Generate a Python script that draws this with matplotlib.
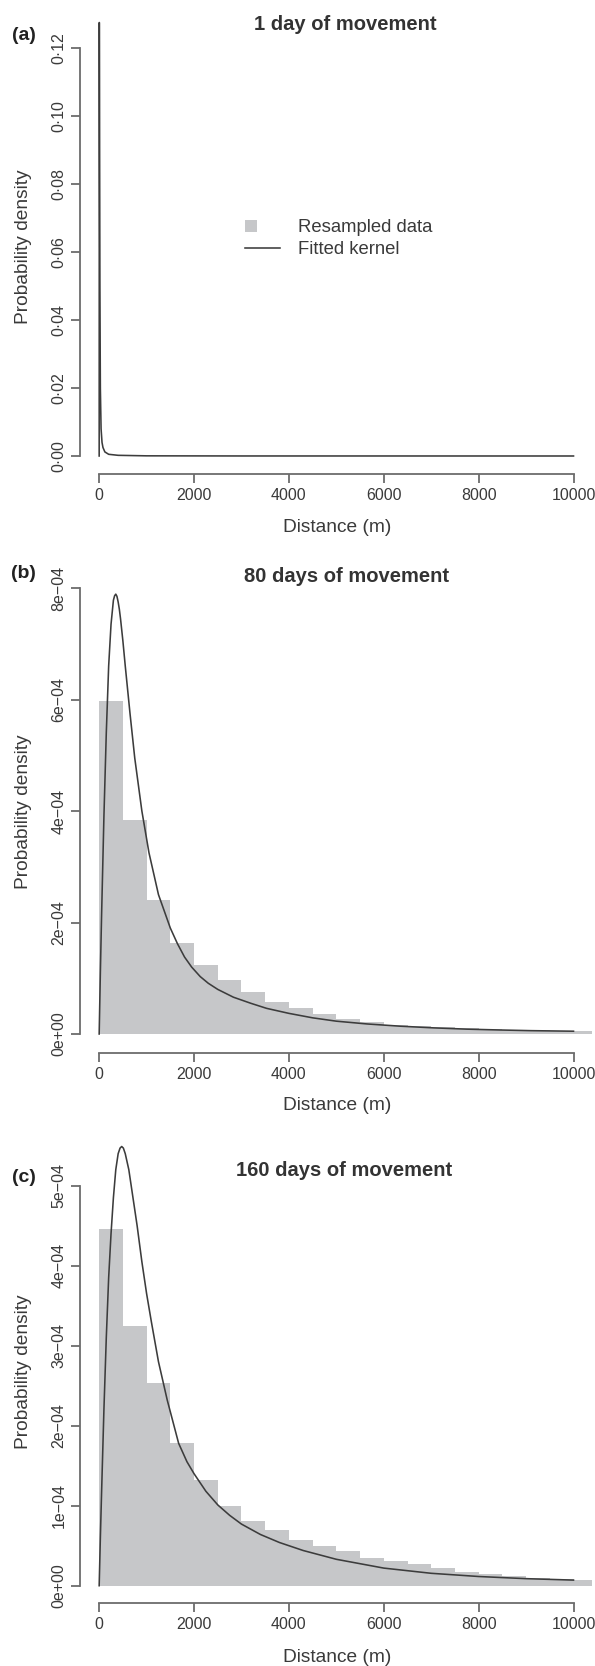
import matplotlib
matplotlib.use("Agg")
import matplotlib.pyplot as plt
from matplotlib.patches import Rectangle
from matplotlib.lines import Line2D

plt.rcParams['font.family'] = ['Liberation Sans', 'DejaVu Sans']

# ---------------- data ----------------
bin_edges = list(range(0, 10501, 500))          # 500 m bins, 0 .. 10500 m

# histogram densities (Resampled data)
hist_80 = [5.98e-4, 3.84e-4, 2.40e-4, 1.64e-4, 1.24e-4, 0.97e-4, 0.75e-4,
           0.58e-4, 0.46e-4, 0.36e-4, 0.27e-4, 0.215e-4, 0.17e-4, 0.14e-4,
           0.12e-4, 0.10e-4, 0.09e-4, 0.08e-4, 0.07e-4, 0.06e-4, 0.05e-4]
hist_160 = [4.46e-4, 3.25e-4, 2.54e-4, 1.78e-4, 1.32e-4, 1.00e-4, 0.81e-4,
            0.70e-4, 0.57e-4, 0.50e-4, 0.43e-4, 0.35e-4, 0.31e-4, 0.27e-4,
            0.22e-4, 0.175e-4, 0.147e-4, 0.12e-4, 0.10e-4, 0.085e-4, 0.07e-4]

# fitted kernels (distance m, density)
kern_1_x = [0, 3, 8, 15, 25, 40, 60, 80, 120, 200, 400, 1000, 3000, 10000]
kern_1_y = [0, 0.1275, 0.09, 0.05, 0.02, 0.008, 0.004, 0.0025, 0.0012,
            0.0005, 0.0002, 0.00005, 0.00001, 0.000001]

kern_80_x = [0, 25, 50, 100, 150, 200, 250, 300, 325, 350, 375, 400, 425,
             450, 500, 550, 650, 750, 900, 1050, 1250, 1500, 1650, 1800,
             1950, 2130, 2300, 2500, 2830, 3200, 3530, 4000, 4500, 5000,
             5650, 6350, 7050, 7750, 8450, 9100, 10000]
kern_80_y = [0, 1.1e-4, 2.1e-4, 3.9e-4, 5.4e-4, 6.6e-4, 7.35e-4, 7.78e-4,
             7.86e-4, 7.89e-4, 7.85e-4, 7.75e-4, 7.62e-4, 7.45e-4, 7.05e-4,
             6.6e-4, 5.75e-4, 4.95e-4, 4.0e-4, 3.25e-4, 2.5e-4, 1.9e-4,
             1.62e-4, 1.38e-4, 1.2e-4, 1.03e-4, 0.91e-4, 0.80e-4, 0.66e-4,
             0.55e-4, 0.46e-4, 0.37e-4, 0.29e-4, 0.23e-4, 0.18e-4, 0.14e-4,
             0.11e-4, 0.087e-4, 0.072e-4, 0.06e-4, 0.05e-4]

kern_160_x = [0, 25, 50, 100, 150, 200, 250, 300, 350, 400, 440, 475, 510,
              550, 625, 700, 800, 900, 1000, 1100, 1250, 1435, 1675, 1850,
              2000, 2250, 2500, 2750, 3000, 3400, 3800, 4300, 5000, 6000,
              7000, 8000, 9000, 10000]
kern_160_y = [0, 0.6e-4, 1.15e-4, 2.2e-4, 3.1e-4, 3.85e-4, 4.4e-4, 4.85e-4,
              5.2e-4, 5.4e-4, 5.47e-4, 5.49e-4, 5.47e-4, 5.4e-4, 5.2e-4,
              4.9e-4, 4.5e-4, 4.05e-4, 3.65e-4, 3.3e-4, 2.8e-4, 2.32e-4,
              1.78e-4, 1.55e-4, 1.40e-4, 1.18e-4, 1.01e-4, 0.88e-4, 0.77e-4,
              0.64e-4, 0.54e-4, 0.44e-4, 0.33e-4, 0.22e-4, 0.155e-4,
              0.115e-4, 0.088e-4, 0.07e-4]

x_ticks = [0, 2000, 4000, 6000, 8000, 10000]
x_ticklabels = ['0', '2000', '4000', '6000', '8000', '10000']

yt_a = [0, 0.02, 0.04, 0.06, 0.08, 0.10, 0.12]
yl_a = ['0·00', '0·02', '0·04', '0·06', '0·08', '0·10', '0·12']
yt_b = [0, 2e-4, 4e-4, 6e-4, 8e-4]
yl_b = ['0e+00', '2e\u221204', '4e\u221204', '6e\u221204', '8e\u221204']
yt_c = [0, 1e-4, 2e-4, 3e-4, 4e-4, 5e-4]
yl_c = ['0e+00', '1e\u221204', '2e\u221204', '3e\u221204', '4e\u221204', '5e\u221204']

titles = ['1 day of movement', '80 days of movement', '160 days of movement']
letters = ['(a)', '(b)', '(c)']

# ---------------- style ----------------
W, H = 595, 1666
AXC = '#6c6c6c'
TXT = '#3a3a3a'
BAR = '#c6c7c9'
LINE = '#3c3c3c'

fig = plt.figure(figsize=(W / 100, H / 100), dpi=100)


def fx(x):
    return x / W


def fy(y):
    return 1 - y / H


# pixel geometry per panel: (zero_px, tick_px, tick_val, bottom_px, top_px)
geo = [
    (456.0, 48.0, 0.12, 474.0, 5.0),
    (1034.0, 588.0, 8e-4, 1053.0, 565.0),
    (1585.7, 1185.7, 5e-4, 1603.0, 1129.0),
]
left_px, right_px = 80.2, 592.5
x_lo, x_hi = -400, 10400

panels = [
    (None, kern_1_x, kern_1_y, yt_a, yl_a),
    (hist_80, kern_80_x, kern_80_y, yt_b, yl_b),
    (hist_160, kern_160_x, kern_160_y, yt_c, yl_c),
]

title_pos = [(345, 25), (347, 576), (344, 1171)]
letter_pos = [(23.5, 35), (23.5, 574), (23.5, 1178)]
ylab_pos = [247, 812, 1372]
xlab_pos = [527, 1105, 1657]

axes = []
for i, (hist, kx, ky, yt, yl) in enumerate(panels):
    z, tp, tv, bp, tpx = geo[i]
    k = (z - tp) / tv
    ax = fig.add_axes([fx(left_px), fy(bp), (right_px - left_px) / W, (bp - tpx) / H])
    ax.set_xlim(x_lo, x_hi)
    ax.set_ylim(-(bp - z) / k, (z - tpx) / k)
    if hist is not None:
        ax.bar(bin_edges[:-1], hist, width=500, align='edge', color=BAR,
               linewidth=0, zorder=1)
    ax.plot(kx, ky, color=LINE, lw=1.15, zorder=3, solid_joinstyle='round')

    for s in ['top', 'right']:
        ax.spines[s].set_visible(False)
    for s in ['left', 'bottom']:
        ax.spines[s].set_color(AXC)
        ax.spines[s].set_linewidth(1.3)
    ax.spines['left'].set_bounds(0, yt[-1])
    ax.spines['bottom'].set_bounds(0, 10000)
    ax.set_xticks(x_ticks)
    ax.set_xticklabels(x_ticklabels)
    ax.set_yticks(yt)
    ax.set_yticklabels(yl, rotation=90, va='center')
    ax.tick_params(axis='both', direction='out', length=6.8, width=1.3,
                   color=AXC, labelcolor=TXT, labelsize=11.5)
    ax.tick_params(axis='x', pad=3.5)
    ax.tick_params(axis='y', pad=3.0)
    ax.patch.set_alpha(0)
    axes.append(ax)

    fig.text(fx(title_pos[i][0]), fy(title_pos[i][1]), titles[i], ha='center',
             va='center', fontsize=14.5, fontweight='bold', color='#333333')
    fig.text(fx(letter_pos[i][0]), fy(letter_pos[i][1]), letters[i], ha='center',
             va='center', fontsize=14, fontweight='bold', color='#222222')
    fig.text(fx(23.5), fy(ylab_pos[i]), 'Probability density', rotation=90,
             ha='center', va='center', fontsize=13.8, color=TXT)
    fig.text(fx(337), fy(xlab_pos[i]), 'Distance (m)', ha='center', va='center',
             fontsize=13.8, color=TXT)

# legend in panel (a)
fig.add_artist(Rectangle((fx(245), fy(232)), 12 / W, 12 / H, transform=fig.transFigure,
                         facecolor=BAR, edgecolor='none'))
fig.add_artist(Line2D([fx(245), fx(280)], [fy(248), fy(248)], transform=fig.transFigure,
                      color=LINE, lw=1.15))
fig.text(fx(298), fy(227), 'Resampled data', ha='left', va='center', fontsize=13.3, color=TXT)
fig.text(fx(298), fy(249), 'Fitted kernel', ha='left', va='center', fontsize=13.3, color=TXT)

fig.savefig('out.png', dpi=100)
